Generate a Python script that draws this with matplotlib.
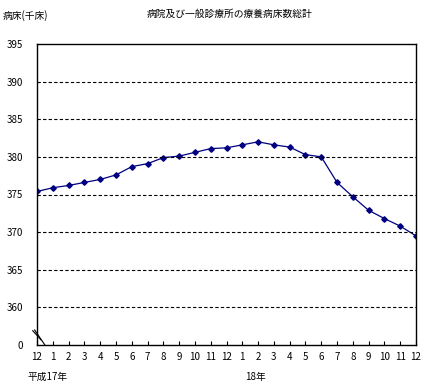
import numpy as np
import matplotlib.pyplot as plt

plt.rcParams['font.family'] = ['Noto Sans CJK JP', 'DejaVu Sans']

months = ["12", "1", "2", "3", "4", "5", "6", "7", "8", "9", "10", "11",
          "12", "1", "2", "3", "4", "5", "6", "7", "8", "9", "10", "11", "12"]
beds = [375.4, 375.9, 376.2, 376.6, 377.0, 377.6, 378.7, 379.1, 379.9, 380.1,
        380.6, 381.1, 381.2, 381.6, 382.0, 381.6, 381.3, 380.3, 380.0, 376.6,
        374.7, 372.9, 371.8, 370.8, 369.5]
ytick_vals = [355, 360, 365, 370, 375, 380, 385, 390, 395]
ytick_labels = ["0", "360", "365", "370", "375", "380", "385", "390", "395"]

fig = plt.figure(figsize=(4.26, 3.91), dpi=100)
ax = fig.add_axes([37 / 426, 1 - 345 / 391, 379 / 426, 301 / 391])

x = np.arange(len(beds))
ax.plot(x, beds, color="#000080", lw=0.9, marker="D", ms=2.8)

ax.set_xlim(0, len(beds) - 1)
ax.set_ylim(355, 395)
ax.set_yticks(ytick_vals)
ax.set_yticklabels(ytick_labels)
ax.set_xticks(x)
ax.set_xticklabels(months)
ax.tick_params(axis="x", direction="in", length=3, labelsize=7, pad=5)
ax.tick_params(axis="y", length=0, labelsize=7, pad=10)

for v in ytick_vals[1:-1]:
    ax.axhline(v, color="black", lw=0.8, ls=(0, (3, 2)))

for s in ax.spines.values():
    s.set_linewidth(1)

# axis break marks
ax.plot([-0.27, 0.25], [356.9, 355.7], color="black", lw=0.8, clip_on=False)
ax.plot([-0.15, 0.5], [357.0, 355.0], color="black", lw=0.8, clip_on=False)

fig.text(147 / 426, 1 - 14 / 391, "病院及び一般診療所の療養病床数総計", fontsize=7, va="center")
fig.text(3 / 426, 1 - 16 / 391, "病床(千床)", fontsize=7, va="center")
fig.text(27 / 426, 1 - 377 / 391, "平成17年", fontsize=7, va="center")
fig.text(245 / 426, 1 - 377 / 391, "18年", fontsize=7, va="center")

fig.savefig("out.png", dpi=100)
